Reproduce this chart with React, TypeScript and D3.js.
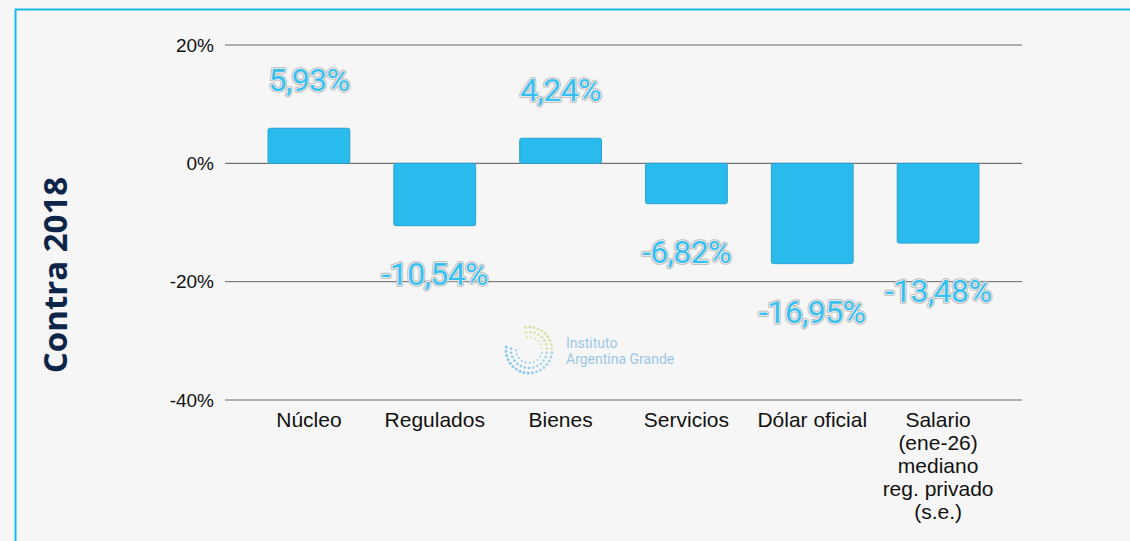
import React from "react";
import * as d3 from "d3";

const categories = ["Núcleo", "Regulados", "Bienes", "Servicios", "Dólar oficial", "Salario (ene-26) mediano reg. privado (s.e.)"];
const categoryLines = [["Núcleo"], ["Regulados"], ["Bienes"], ["Servicios"], ["Dólar oficial"], ["Salario", "(ene-26)", "mediano", "reg. privado", "(s.e.)"]];
const values = [5.93, -10.54, 4.24, -6.82, -16.95, -13.48];
const valueLabels = ["5,93%", "-10,54%", "4,24%", "-6,82%", "-16,95%", "-13,48%"];
const yTicks = [20, 0, -20, -40];
const yTickLabels = ["20%", "0%", "-20%", "-40%"];
const yTitle = "Contra 2018";

export default function App() {
  const W = 1130, H = 541;
  const y = d3.scaleLinear().domain([-40, 20]).range([400, 45]);
  const x = d3.scaleBand<string>().domain(categories).range([246, 1001]).paddingInner(0.35).paddingOuter(0.175);
  const gridX0 = 225, gridX1 = 1022;

  // logo dots
  const dots: { cx: number; cy: number; r: number; c: string }[] = [];
  const lc = { x: 529, y: 350 };
  const rings = [
    { R: 23, n: 28, r: 1.5 },
    { R: 18, n: 22, r: 1.4 },
    { R: 13, n: 16, r: 1.2 },
  ];
  rings.forEach((ring, ri) => {
    for (let i = 0; i < ring.n; i++) {
      const a = -Math.PI * 0.55 + (i / ring.n) * Math.PI * 1.65;
      const t = i / ring.n;
      const col = t < 0.35 ? "#d3e4a6" : t < 0.6 ? "#a9d5ea" : "#8ccaee";
      dots.push({ cx: lc.x + ring.R * Math.cos(a), cy: lc.y + ring.R * Math.sin(a), r: ring.r - ri * 0.1, c: col });
    }
  });

  const labelFont = { fontFamily: "Roboto, sans-serif", fontSize: 32, letterSpacing: -0.6 } as const;

  return (
    <svg width={W} height={H} style={{ display: "block", position: "absolute", left: 0, top: 0 }}>
      <rect x={0} y={0} width={W} height={H} fill="#f6f6f6" />
      <rect x={15.5} y={9.5} width={W + 20} height={H + 20} fill="#f6f6f6" stroke="#18b9ee" strokeWidth={2} />

      {/* gridlines */}
      {yTicks.map((t, i) => (
        <g key={t}>
          <line x1={gridX0} x2={gridX1} y1={y(t)} y2={y(t)} stroke={t === 0 ? "#555" : "#666"} strokeWidth={1} />
          <text x={214} y={y(t)} dy="0.35em" textAnchor="end" fontFamily="Liberation Sans, Arial, sans-serif" fontSize={19} fill="#111">
            {yTickLabels[i]}
          </text>
        </g>
      ))}

      {/* logo watermark */}
      <g>
        {dots.map((d, i) => (
          <circle key={i} cx={d.cx} cy={d.cy} r={d.r} fill={d.c} />
        ))}
        <text x={566} y={348} fontFamily="Roboto, Open Sans, sans-serif" fontSize={14} fill="#9cc8e4">Instituto</text>
        <text x={566} y={364} fontFamily="Roboto, Open Sans, sans-serif" fontSize={14} fill="#9cc8e4">Argentina Grande</text>
      </g>

      {/* bars */}
      {categories.map((c, i) => {
        const v = values[i];
        const y0 = y(Math.max(0, v));
        const h = Math.abs(y(v) - y(0));
        return (
          <rect key={c} x={x(c)!} y={y0} width={x.bandwidth()} height={h} rx={2} fill="#29bbee" stroke="#2aa2d2" strokeWidth={1} />
        );
      })}

      {/* value labels */}
      {categories.map((c, i) => {
        const v = values[i];
        const cx = x(c)! + x.bandwidth() / 2;
        const cy = v >= 0 ? y(v) - 48 : y(v) + 48;
        return (
          <g key={c}>
            <text x={cx} y={cy} dy="0.35em" textAnchor="middle" {...labelFont} fill="none" stroke="#a9a9a9" strokeWidth={3.6} strokeLinejoin="round" opacity={0.75}>
              {valueLabels[i]}
            </text>
            <text x={cx} y={cy} dy="0.35em" textAnchor="middle" {...labelFont} fill="#36c0f2" stroke="#f2f2f2" strokeWidth={1.6} paintOrder="stroke" strokeLinejoin="round">
              {valueLabels[i]}
            </text>
          </g>
        );
      })}

      {/* category labels */}
      {categories.map((c, i) => {
        const cx = x(c)! + x.bandwidth() / 2;
        return (
          <text key={c} textAnchor="middle" fontFamily="Liberation Sans, Arial, sans-serif" fontSize={21} fill="#111">
            {categoryLines[i].map((l, j) => (
              <tspan key={j} x={cx} y={427 + j * 23}>{l}</tspan>
            ))}
          </text>
        );
      })}

      {/* y title */}
      <text transform="translate(67,275) rotate(-90)" textAnchor="middle" fontFamily="Open Sans, Noto Sans, sans-serif" fontWeight={700} fontSize={33} fill="#0c2549">
        {yTitle}
      </text>
    </svg>
  );
}
